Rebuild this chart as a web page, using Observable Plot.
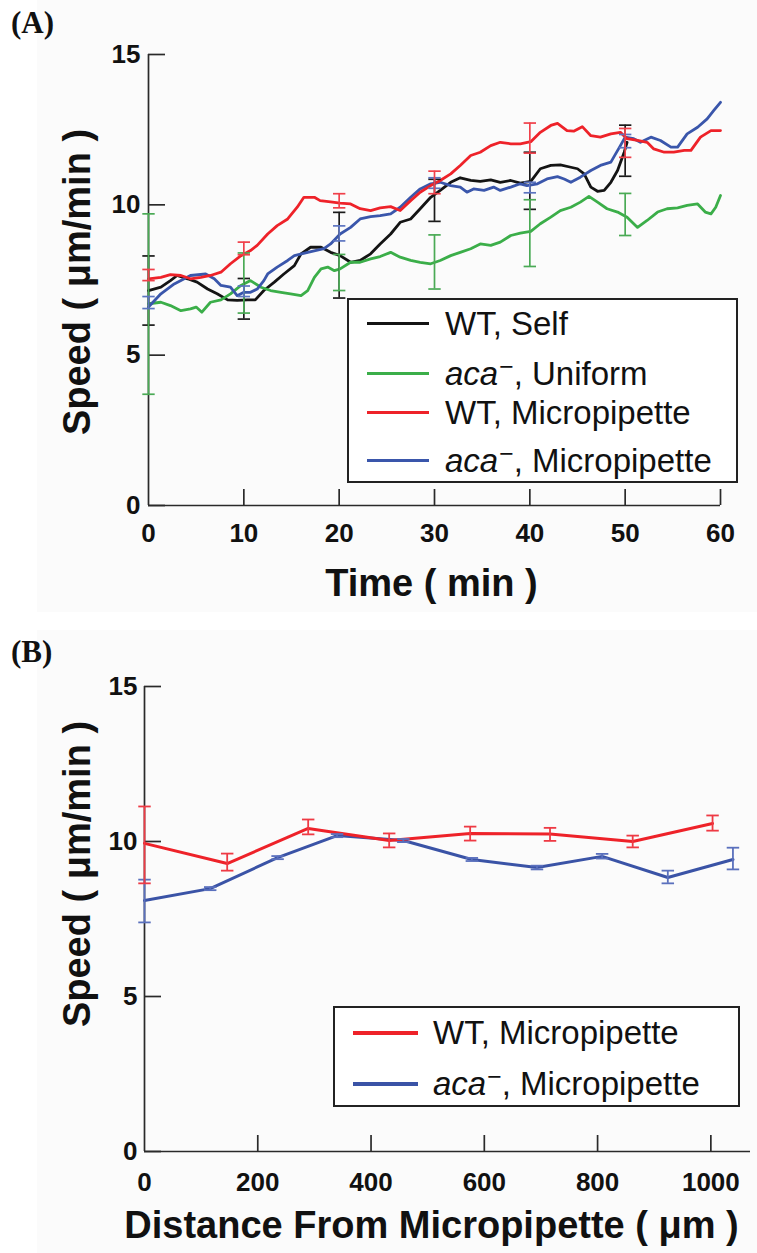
<!DOCTYPE html>
<html><head><meta charset="utf-8">
<script src="https://cdn.jsdelivr.net/npm/d3@7"></script>
<script src="https://cdn.jsdelivr.net/npm/@observablehq/plot@0.6"></script>
<style>
body{margin:0;background:#fff;}
#fig{position:relative;width:757px;height:1253px;overflow:hidden;font-family:"Liberation Sans",Arial,sans-serif;}
.bg{position:absolute;background:#fbfbfb;}
.panel{position:absolute;left:0;}
.plabel{position:absolute;font-family:"Liberation Serif","Times New Roman",serif;font-weight:bold;font-size:31px;color:#111;line-height:1;}
.legend{position:absolute;border:2px solid #222;box-sizing:border-box;background:#fff;}
.row{position:absolute;left:0;right:0;height:0;}
.swatch{position:absolute;margin-top:-1.5px;}
.ltext{position:absolute;top:0;font-size:33px;line-height:1;transform:translateY(-50%);white-space:nowrap;color:#111;}
.ltext .m{position:relative;top:-0.4em;font-size:0.75em;margin-left:1px;}
</style></head>
<body>
<div id="fig">
  <div class="bg" style="left:37px;top:0;width:720px;height:612px"></div>
  <div class="bg" style="left:37px;top:630px;width:720px;height:623px"></div>
  <div class="plabel" style="left:11px;top:7px">(A)</div>
  <div class="plabel" style="left:11px;top:636px">(B)</div>
  <div id="panelA" class="panel" style="top:0"></div>
  <div id="panelB" class="panel" style="top:620px"></div>
  <div id="legA" class="legend" style="left:347px;top:298px;width:391px;height:185px"></div>
  <div id="legB" class="legend" style="left:333px;top:1006px;width:407px;height:101px"></div>
</div>
<script>
// ---------------- Panel A data (time in min, speed in µm/min) ----------------
const wtSelf = [[0,7.15],[1.3,7.26],[2.3,7.48],[3.0,7.65],[4.1,7.54],[5.1,7.43],[6.2,7.2],[7.2,7.04],[8.3,6.84],[9.3,6.82],[10.4,6.84],[11.2,6.84],[12.1,7.15],[13.2,7.43],[14.2,7.7],[15.3,7.98],[16.0,8.37],[17.0,8.59],[18.1,8.59],[19.1,8.42],[20.1,8.31],[21.2,8.09],[22.2,8.15],[23.3,8.37],[24.3,8.7],[25.4,9.03],[26.4,9.42],[27.5,9.53],[28.5,9.87],[29.6,10.25],[30.6,10.48],[31.7,10.75],[32.7,10.9],[33.8,10.81],[34.8,10.78],[35.9,10.83],[36.9,10.75],[38.0,10.81],[39.0,10.72],[40.1,10.78],[41.1,11.2],[42.2,11.31],[43.2,11.33],[44.3,11.25],[45.0,11.2],[45.7,11.03],[46.4,10.59],[47.1,10.45],[47.8,10.48],[48.5,10.75],[49.2,11.14],[49.9,11.75],[50.2,12.08]];
const acaUniform = [[0,6.71],[1.3,6.76],[2.3,6.65],[3.4,6.48],[4.4,6.54],[5.0,6.6],[5.6,6.43],[6.5,6.76],[7.6,6.84],[8.6,7.04],[9.7,7.32],[10.7,7.48],[11.8,7.26],[12.8,7.15],[13.9,7.09],[14.9,7.04],[16.0,6.98],[16.7,7.15],[17.4,7.59],[18.1,7.87],[18.8,7.93],[19.5,7.81],[20.1,7.87],[21.2,8.09],[22.2,8.09],[23.3,8.2],[24.3,8.28],[25.4,8.42],[26.4,8.26],[27.5,8.15],[28.5,8.09],[29.6,8.04],[30.6,8.15],[31.7,8.31],[32.7,8.42],[33.8,8.54],[34.8,8.7],[35.9,8.65],[36.9,8.76],[38.0,8.98],[39.0,9.06],[40.1,9.12],[41.1,9.37],[42.2,9.59],[43.2,9.81],[44.3,9.92],[45.3,10.09],[46.2,10.28],[47.1,10.09],[48.1,9.87],[49.2,9.76],[50.2,9.59],[51.3,9.25],[52.3,9.48],[53.4,9.76],[54.4,9.87],[55.5,9.9],[56.5,9.98],[57.6,10.03],[58.4,9.76],[59.0,9.7],[59.5,9.92],[60.0,10.31]];
const wtPipette = [[0,7.54],[1.3,7.59],[2.3,7.68],[3.4,7.65],[4.4,7.54],[5.5,7.59],[6.5,7.65],[7.6,7.76],[8.6,8.04],[9.7,8.31],[10.7,8.48],[11.4,8.65],[12.5,9.03],[13.5,9.31],[14.6,9.53],[15.6,9.92],[16.3,10.25],[17.4,10.25],[18.0,10.14],[19.1,10.1],[20.1,10.06],[21.2,10.03],[22.2,9.87],[23.3,9.81],[24.3,9.9],[25.4,9.94],[26.4,9.81],[27.5,10.14],[28.5,10.42],[29.6,10.64],[30.6,10.81],[31.7,11.03],[32.7,11.31],[33.8,11.64],[34.8,11.75],[35.9,11.97],[36.9,12.08],[38.0,12.03],[39.0,12.03],[40.1,12.1],[41.1,12.41],[42.2,12.64],[42.9,12.71],[43.9,12.47],[44.6,12.45],[45.5,12.6],[46.4,12.3],[47.4,12.25],[48.5,12.36],[49.5,12.41],[50.2,12.2],[51.3,12.14],[52.3,12.08],[53.0,11.86],[54.1,11.75],[55.1,11.75],[56.2,11.81],[56.9,11.81],[57.9,12.25],[59.0,12.47],[60.0,12.47]];
const acaPipette = [[0,6.6],[1.3,7.04],[2.7,7.37],[4.4,7.65],[6.0,7.7],[6.9,7.54],[7.6,7.32],[8.6,7.26],[9.3,6.98],[10.0,7.09],[10.7,7.09],[11.4,7.2],[12.1,7.48],[12.5,7.7],[13.5,7.93],[14.6,8.15],[15.3,8.31],[16.7,8.42],[18.4,8.54],[19.1,8.7],[20.1,9.03],[21.2,9.25],[22.2,9.53],[23.3,9.61],[24.3,9.64],[25.4,9.7],[26.4,9.92],[27.5,10.25],[28.5,10.53],[29.6,10.7],[30.6,10.75],[31.7,10.64],[32.7,10.59],[33.4,10.42],[34.1,10.53],[35.2,10.48],[36.2,10.59],[36.9,10.48],[38.0,10.59],[39.0,10.7],[39.7,10.64],[40.8,10.7],[41.8,10.86],[42.9,10.94],[43.6,10.86],[44.3,10.75],[45.3,10.92],[46.4,11.14],[47.4,11.31],[48.5,11.42],[49.5,11.97],[50.0,12.25],[50.9,12.2],[51.6,12.08],[52.7,12.25],[53.7,12.14],[54.8,11.92],[55.5,11.92],[56.5,12.36],[57.6,12.58],[58.6,12.86],[59.3,13.14],[60.0,13.41]];

const errTimes = [0, 10, 20, 30, 40, 50];
const wtSelfLo = [6.0, 6.2, 6.9, 9.45, 9.85, 10.95];
const wtSelfHi = [8.3, 7.55, 9.75, 10.85, 11.75, 12.65];
const acaUniformLo = [3.7, 6.4, 7.15, 7.2, 7.95, 8.98];
const acaUniformHi = [9.7, 8.4, 8.35, 9.0, 10.17, 10.38];
const wtPipetteLo = [7.48, 8.34, 9.9, 10.37, 11.72, 11.58];
const wtPipetteHi = [7.85, 8.76, 10.37, 11.12, 12.72, 12.54];
const acaPipetteLo = [6.55, 6.95, 8.8, 10.55, 10.4, 11.9];
const acaPipetteHi = [6.95, 7.3, 9.3, 10.9, 10.75, 12.34];

const timeTicks = [0, 10, 20, 30, 40, 50, 60];
const speedTicks = [0, 5, 10, 15];

// ---------------- Panel B data (distance in µm, speed in µm/min) ----------------
const wtDist = [0, 146, 289, 432, 575, 716, 862, 1003];
const wtSpeed = [9.94, 9.29, 10.42, 10.03, 10.26, 10.24, 10.0, 10.58];
const wtLo = [8.65, 9.06, 10.23, 9.81, 10.03, 10.02, 9.81, 10.35];
const wtHi = [11.13, 9.61, 10.71, 10.26, 10.48, 10.44, 10.19, 10.84];
const acaDist = [0, 116, 235, 340, 457, 578, 693, 808, 924, 1039];
const acaSpeed = [8.1, 8.48, 9.48, 10.19, 10.03, 9.42, 9.16, 9.52, 8.84, 9.42];
const acaLo = [7.39, 8.43, 9.43, 10.14, 9.98, 9.37, 9.1, 9.45, 8.65, 9.1];
const acaHi = [8.77, 8.53, 9.53, 10.24, 10.08, 9.47, 9.22, 9.6, 9.06, 9.8];
const distTicks = [0, 200, 400, 600, 800, 1000];

// ---------------- styling ----------------
const W = 757;
const axisColor = "#2a2a2a";
const textColor = "#111";
const labelFont = 26;
const titleFont = 38;

function errMarks(xs, lo, hi, half, color, sw) {
  const rows = xs.map((x, i) => ({x, lo: lo[i], hi: hi[i]}));
  return [
    Plot.ruleX(rows, {x: "x", y1: "lo", y2: "hi", stroke: color, strokeWidth: sw}),
    Plot.link(rows, {x1: d => d.x - half, x2: d => d.x + half, y1: "lo", y2: "lo", stroke: color, strokeWidth: sw}),
    Plot.link(rows, {x1: d => d.x - half, x2: d => d.x + half, y1: "hi", y2: "hi", stroke: color, strokeWidth: sw})
  ];
}

function axisMarks(xTicks, yTicks, fw, fh, xPad, yPad) {
  return [
    Plot.ruleX([0], {stroke: axisColor, strokeWidth: 1.7}),
    Plot.ruleY([0], {stroke: axisColor, strokeWidth: 1.7}),
    Plot.tickY(yTicks, {y: d => d, stroke: axisColor, strokeWidth: 1.7, insetRight: fw - 17}),
    Plot.tickX(xTicks.filter(d => d > 0), {x: d => d, stroke: axisColor, strokeWidth: 1.7, insetTop: fh - 16}),
    Plot.axisY({ticks: yTicks, tickSize: 0, tickPadding: yPad, tickFormat: d => String(d), fontSize: labelFont, fontWeight: "bold", fill: textColor, label: null}),
    Plot.axisX({ticks: xTicks, tickSize: 0, tickPadding: xPad, tickFormat: d => String(d), fontSize: labelFont, fontWeight: "bold", fill: textColor, label: null})
  ];
}

function yTitle(text, dx, dy) {
  return Plot.text([text], {text: d => d, frameAnchor: "left", textAnchor: "middle", lineAnchor: "middle", dx, dy, rotate: -90, fontSize: titleFont, fontWeight: "bold", fill: textColor});
}
function xTitle(text, dx, dy) {
  return Plot.text([text], {text: d => d, frameAnchor: "bottom", textAnchor: "middle", lineAnchor: "middle", dx, dy, fontSize: titleFont, fontWeight: "bold", fill: textColor});
}

// ---------------- Panel A ----------------
const A = {h: 620, top: 54, bottom: 115, left: 148, right: 37};
const fwA = W - A.left - A.right, fhA = A.h - A.top - A.bottom;
const seriesA = [
  {pts: wtSelf, lo: wtSelfLo, hi: wtSelfHi, color: "#141414", err: "#1a1a1a"},
  {pts: acaUniform, lo: acaUniformLo, hi: acaUniformHi, color: "#3bae49", err: "#4aaa55"},
  {pts: acaPipette, lo: acaPipetteLo, hi: acaPipetteHi, color: "#3a56ab", err: "#5c74c0"},
  {pts: wtPipette, lo: wtPipetteLo, hi: wtPipetteHi, color: "#ee2229", err: "#f0404a"}
];
const plotA = Plot.plot({
  width: W, height: A.h,
  marginTop: A.top, marginBottom: A.bottom, marginLeft: A.left, marginRight: A.right,
  x: {domain: [0, 60]},
  y: {domain: [0, 15]},
  style: {background: "transparent", fontFamily: "'Liberation Sans', Arial, sans-serif", color: textColor, overflow: "visible"},
  marks: [
    ...axisMarks(timeTicks, speedTicks, fwA, fhA, 18, 8),
    ...seriesA.map(s => Plot.line(s.pts, {x: d => d[0], y: d => d[1], stroke: s.color, strokeWidth: 2.8, curve: "linear"})),
    ...seriesA.flatMap(s => errMarks(errTimes, s.lo, s.hi, 0.65, s.err, 1.7)),
    yTitle("Speed ( μm/min )", -71, 2),
    xTitle("Time ( min )", -3, 78)
  ]
});
document.getElementById("panelA").appendChild(plotA);

// ---------------- Panel B ----------------
const B = {h: 633, top: 66, bottom: 102, left: 144, right: 7};
const fwB = W - B.left - B.right, fhB = B.h - B.top - B.bottom;
const wtRows = wtDist.map((x, i) => ({x, v: wtSpeed[i]}));
const acaRows = acaDist.map((x, i) => ({x, v: acaSpeed[i]}));
const plotB = Plot.plot({
  width: W, height: B.h,
  marginTop: B.top, marginBottom: B.bottom, marginLeft: B.left, marginRight: B.right,
  x: {domain: [0, 1070]},
  y: {domain: [0, 15]},
  style: {background: "transparent", fontFamily: "'Liberation Sans', Arial, sans-serif", color: textColor, overflow: "visible"},
  marks: [
    ...axisMarks(distTicks, speedTicks, fwB, fhB, 21, 7),
    Plot.line(acaRows, {x: "x", y: "v", stroke: "#3a53a6", strokeWidth: 3}),
    Plot.line(wtRows, {x: "x", y: "v", stroke: "#ee2229", strokeWidth: 3}),
    ...errMarks(acaDist, acaLo, acaHi, 11, "#5a70bd", 1.8),
    ...errMarks(wtDist, wtLo, wtHi, 11, "#ee3a44", 1.8),
    yTitle("Speed ( μm/min )", -67, -45),
    xTitle("Distance From Micropipette ( μm )", -16, 74)
  ]
});
document.getElementById("panelB").appendChild(plotB);

// ---------------- Legends ----------------
const acaLabel = '<i>aca</i><span class="m">−</span>';
const legendA = [
  {label: "WT, Self", color: "#141414", y: 25},
  {label: acaLabel + ", Uniform", color: "#3bae49", y: 75},
  {label: "WT, Micropipette", color: "#ee2229", y: 114},
  {label: acaLabel + ", Micropipette", color: "#3a56ab", y: 162}
];
const legendB = [
  {label: "WT, Micropipette", color: "#ee2229", y: 26},
  {label: acaLabel + ", Micropipette", color: "#3a53a6", y: 77}
];
function buildLegend(id, items, swLeft, swWidth, swH, textLeft) {
  const box = document.getElementById(id);
  for (const it of items) {
    const row = document.createElement("div");
    row.className = "row";
    row.style.top = (it.y - 2) + "px";
    row.innerHTML = `<div class="swatch" style="left:${swLeft}px;width:${swWidth}px;height:${swH}px;background:${it.color}"></div>` +
      `<div class="ltext" style="left:${textLeft}px">${it.label}</div>`;
    box.appendChild(row);
  }
}
buildLegend("legA", legendA, 18, 62, 3, 96);
buildLegend("legB", legendB, 18, 65, 4, 98);
</script>
</body></html>
